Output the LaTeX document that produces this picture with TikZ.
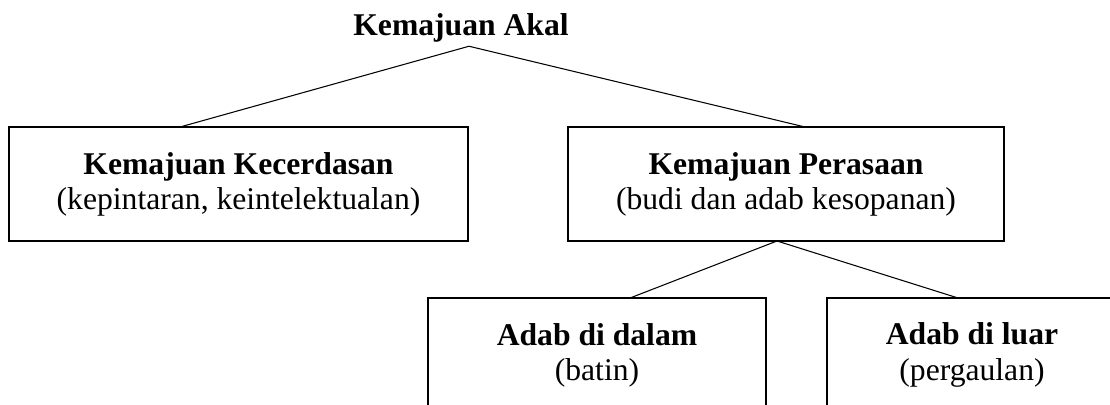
\documentclass[tikz,border=0pt]{standalone}
\usepackage{fontspec}
\setmainfont{Liberation Serif}
\begin{document}
\begin{tikzpicture}[every node/.style={font=\fontsize{18}{20}\selectfont, align=center, outer sep=0pt},
  kotak/.style={draw, line width=0.9pt, inner sep=0pt, minimum height=2.28cm},
  garis/.style={line width=0.6pt}]
\useasboundingbox (0,0) rectangle (22.2,8.08);
\clip (0,0) rectangle (22.2,8.08);

\node[anchor=base, inner sep=2pt] (akal) at (9.22,7.36) {\textbf{Kemajuan Akal}};

\node[kotak, minimum width=9.18cm] (kecerdasan) at (4.77,4.4) {\textbf{Kemajuan Kecerdasan}\\(kepintaran, keintelektualan)};
\node[kotak, minimum width=8.72cm] (perasaan) at (15.72,4.4) {\textbf{Kemajuan Perasaan}\\(budi dan adab kesopanan)};

\node[kotak, minimum width=6.76cm] (dalam) at (11.94,0.98) {\textbf{Adab di dalam}\\(batin)};
\node[kotak, minimum width=5.8cm] (luar) at (19.44,0.98) {\textbf{Adab di luar}\\(pergaulan)};

\draw[garis] ([xshift=0.16cm]akal.south) -- ([xshift=-1.17cm]kecerdasan.north);
\draw[garis] ([xshift=0.16cm]akal.south) -- ([xshift=0.38cm]perasaan.north);
\draw[garis] ([xshift=-0.18cm]perasaan.south) -- ([xshift=0.66cm]dalam.north);
\draw[garis] ([xshift=-0.18cm]perasaan.south) -- ([xshift=-0.28cm]luar.north);
\end{tikzpicture}
\end{document}
